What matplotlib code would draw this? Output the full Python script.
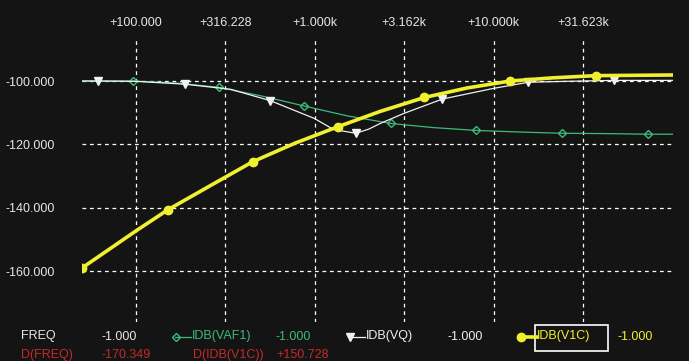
import matplotlib.pyplot as plt
from matplotlib.lines import Line2D
from matplotlib.patches import Rectangle
from matplotlib.ticker import NullLocator

plt.rcParams['font.family'] = ['Liberation Sans', 'DejaVu Sans']

# IDB(V1C) - yellow
f_v1c = [50, 100, 151, 262, 450, 778, 1352, 2318, 4093, 7080, 12330, 21320, 37150, 100000]
db_v1c = [-159.1, -147.4, -140.7, -133.0, -125.5, -119.6, -114.4, -109.6, -105.2, -102.2,
          -100.0, -99.0, -98.3, -98.1]
mk_v1c = [0, 2, 4, 6, 8, 10, 12]

# IDB(VQ) - white
f_vq = [50, 62, 100, 188, 338, 565, 993, 1274, 1698, 2000, 2320, 3155, 5152, 10000,
        15520, 25000, 46620, 100000]
db_vq = [-100.0, -100.0, -100.1, -101.0, -102.6, -106.2, -111.8, -115.3, -116.5, -115.2,
         -113.4, -110.2, -105.7, -102.3, -100.4, -100.1, -99.8, -99.8]
mk_vq = [1, 3, 5, 8, 12, 14, 16]

# IDB(VAF1) - green
f_vaf1 = [50, 97, 167, 291, 503, 874, 1517, 2656, 4571, 7943, 13780, 24030, 41530, 72440, 100000]
db_vaf1 = [-100.0, -100.0, -100.6, -102.0, -104.7, -107.9, -111.0, -113.4, -114.7, -115.6,
           -116.1, -116.5, -116.6, -116.8, -116.8]
mk_vaf1 = [1, 3, 5, 7, 9, 11, 13]

xticks = [100, 316.228, 1000, 3162.28, 10000, 31623]
xlabels = ['+100.000', '+316.228', '+1.000k', '+3.162k', '+10.000k', '+31.623k']
yticks = [-160, -140, -120, -100]
ylabels = ['-160.000', '-140.000', '-120.000', '-100.000']

BG = '#141414'
GREEN = '#3dba7a'
YELLOW = '#f0f030'
WHITE = '#f0f0f0'
RED = '#c42a2a'
W, H = 689, 361

fig = plt.figure(figsize=(W / 100, H / 100), dpi=100, facecolor=BG)
ax = fig.add_axes([81.7 / W, 1 - 322 / H, (673 - 81.7) / W, (322 - 37) / H])
ax.set_facecolor(BG)
ax.set_xscale('log')
ax.set_xlim(50, 100000)
ax.set_ylim(-176.1, -86.1)

ax.set_xticks(xticks)
ax.set_xticklabels(xlabels)
ax.xaxis.set_minor_locator(NullLocator())
ax.set_yticks(yticks)
ax.set_yticklabels(ylabels)
ax.tick_params(axis='x', top=True, bottom=False, labeltop=True, labelbottom=False,
               length=0, pad=6, colors='#e6e6e6', labelsize=9)
ax.tick_params(axis='y', length=0, pad=19, colors='#e6e6e6', labelsize=9)
for s in ax.spines.values():
    s.set_visible(False)
ax.grid(True, color='white', linestyle=(0, (3, 3)), linewidth=0.9)
ax.set_axisbelow(True)

ax.plot(f_vaf1, db_vaf1, color=GREEN, lw=0.9, marker='D', markersize=4,
        markerfacecolor='none', markeredgecolor=GREEN, markevery=mk_vaf1, zorder=3)
ax.plot(f_vq, db_vq, color=WHITE, lw=0.9, marker='v', markersize=6,
        markerfacecolor=WHITE, markeredgecolor=WHITE, markevery=mk_vq, zorder=4)
ax.plot(f_v1c, db_v1c, color=YELLOW, lw=2.6, marker='o', markersize=6,
        markerfacecolor=YELLOW, markeredgecolor=YELLOW, markevery=mk_v1c, zorder=5)


def fx(px):
    return px / W


def fy(py):
    return 1 - py / H


r1, r2 = 336.5, 355
fs = 9
fig.text(fx(21), fy(r1), 'FREQ', color='#e6e6e6', fontsize=fs, va='center')
fig.text(fx(102), fy(r1), '-1.000', color='#e6e6e6', fontsize=fs, va='center')
fig.add_artist(Line2D([fx(175), fx(191)], [fy(r1), fy(r1)], color=GREEN, lw=0.9))
fig.add_artist(Line2D([fx(176)], [fy(r1)], color=GREEN, marker='D', markersize=4,
                      markerfacecolor='none'))
fig.text(fx(192), fy(r1), 'IDB(VAF1)', color=GREEN, fontsize=fs, va='center')
fig.text(fx(275), fy(r1), '-1.000', color=GREEN, fontsize=fs, va='center')
fig.add_artist(Line2D([fx(349), fx(365)], [fy(r1), fy(r1)], color=WHITE, lw=0.9))
fig.add_artist(Line2D([fx(350)], [fy(r1)], color=WHITE, marker='v', markersize=6))
fig.text(fx(366), fy(r1), 'IDB(VQ)', color=WHITE, fontsize=fs, va='center')
fig.text(fx(447), fy(r1), '-1.000', color=WHITE, fontsize=fs, va='center')
fig.add_artist(Line2D([fx(521), fx(537)], [fy(r1), fy(r1)], color=YELLOW, lw=2.6))
fig.add_artist(Line2D([fx(521)], [fy(r1)], color=YELLOW, marker='o', markersize=6))
fig.add_artist(Rectangle((fx(535), fy(351)), (608 - 535) / W, 26 / H, fill=False,
                         edgecolor='white', lw=1.2))
fig.text(fx(537), fy(r1), 'IDB(V1C)', color=YELLOW, fontsize=fs, va='center')
fig.text(fx(618), fy(r1), '-1.000', color=YELLOW, fontsize=fs, va='center')

fig.text(fx(21), fy(r2), 'D(FREQ)', color=RED, fontsize=fs, va='center')
fig.text(fx(102), fy(r2), '-170.349', color=RED, fontsize=fs, va='center')
fig.text(fx(193), fy(r2), 'D(IDB(V1C))', color=RED, fontsize=fs, va='center')
fig.text(fx(276), fy(r2), '+150.728', color=RED, fontsize=fs, va='center')

fig.savefig('out.png', dpi=100, facecolor=BG)
